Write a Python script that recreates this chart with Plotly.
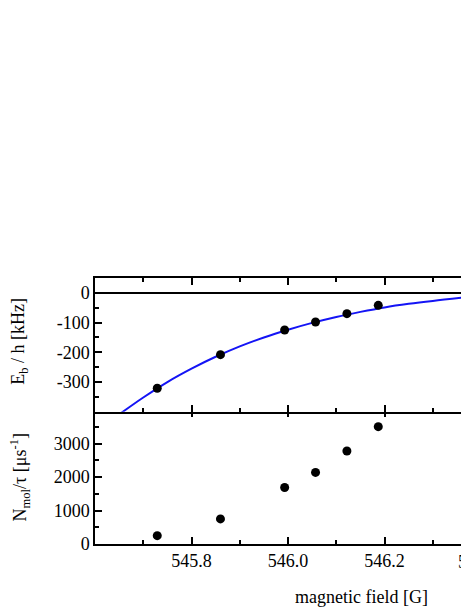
import plotly.graph_objects as go

# measured points (magnetic field in G)
field = [545.729, 545.860, 545.993, 546.057, 546.122, 546.187]
binding_energy = [-321, -208, -125, -98, -70, -42]   # kHz
mol_rate = [249, 750, 1690, 2140, 2780, 3510]          # 1/us

# fitted curve
fit_field = [545.65, 545.70, 545.75, 545.80, 545.85, 545.90, 545.95, 546.00,
             546.05, 546.10, 546.15, 546.20, 546.25, 546.30, 546.375]
fit_energy = [-409, -352, -300, -255, -215, -180, -150, -124,
              -101, -81, -64, -49, -37, -27, -14]

x_range = [545.6, 546.375]
x_ticks = [545.8, 546.0, 546.2]
top_ticks = [-300, -200, -100, 0]
bottom_ticks = [0, 1000, 2000, 3000]

serif = "Liberation Serif"

# the page body adds 8px on the left and top, so the figure is drawn 8px smaller
W, H = 461, 599
ML, MT, MB = 87, 270, 63
plot_w = W - ML
plot_h = H - MT - MB
# axis lines sit outside their domain; overlap the panels so the shared border is one line
half_lw = 0.75 / plot_h

fig = go.Figure()

fig.add_trace(go.Scatter(x=fit_field, y=fit_energy, mode="lines",
                         line=dict(color="rgb(20,20,245)", width=2, shape="spline"),
                         xaxis="x2", yaxis="y2", showlegend=False))
fig.add_trace(go.Scatter(x=field, y=binding_energy, mode="markers",
                         marker=dict(color="black", size=9),
                         xaxis="x2", yaxis="y2", showlegend=False))
fig.add_trace(go.Scatter(x=field, y=mol_rate, mode="markers",
                         marker=dict(color="black", size=9),
                         xaxis="x", yaxis="y", showlegend=False))

axis_common = dict(showline=True, linecolor="black", linewidth=1.5,
                   ticks="inside", ticklen=7, tickwidth=1.5, tickcolor="black",
                   showgrid=False, tickfont=dict(family=serif, size=18, color="black"))
minor_x = dict(ticks="inside", dtick=0.1, tick0=545.6, ticklen=4,
               tickwidth=1.5, tickcolor="black")

fig.update_layout(
    width=W, height=H,
    margin=dict(l=ML, r=0, t=MT, b=MB),
    paper_bgcolor="white", plot_bgcolor="white",
    font=dict(family=serif, size=18, color="black"),
    xaxis=dict(axis_common, domain=[0, 1], anchor="y", range=x_range,
               tickvals=x_ticks, ticktext=["%.1f" % v for v in x_ticks],
               mirror="ticks", zeroline=False, minor=minor_x),
    xaxis2=dict(axis_common, domain=[0, 1], anchor="y2", range=x_range,
                matches="x", tickvals=x_ticks, showticklabels=False,
                mirror="ticks", zeroline=False, minor=minor_x),
    yaxis=dict(axis_common, domain=[0, 0.5 + half_lw], anchor="x", range=[0, 4000],
               tickvals=bottom_ticks, ticktext=[str(v) for v in bottom_ticks],
               zeroline=False,
               minor=dict(ticks="inside", dtick=500, ticklen=4,
                          tickwidth=1.5, tickcolor="black")),
    yaxis2=dict(axis_common, domain=[0.5 - half_lw, 1], anchor="x2", range=[-400, 50],
                tickvals=top_ticks, ticktext=[str(v) for v in top_ticks],
                zeroline=True, zerolinecolor="black", zerolinewidth=1.5,
                minor=dict(ticks="inside", dtick=50, ticklen=4,
                           tickwidth=1.5, tickcolor="black")),
)

annotations = [
    # tick label at 546.4, cut off by the right edge
    dict(text="546.4", xref="paper", yref="paper",
         x=(546.4 - x_range[0]) / (x_range[1] - x_range[0]), y=-18 / plot_h,
         xanchor="center", yanchor="middle", showarrow=False, xshift=-3,
         font=dict(family=serif, size=18)),
    dict(text="magnetic field [G]", xref="paper", yref="paper",
         x=(353 - ML) / plot_w, y=-53 / plot_h,
         xanchor="center", yanchor="middle", showarrow=False,
         font=dict(family=serif, size=18)),
    dict(text="E<sub>b</sub> / h [kHz]", xref="paper", yref="paper",
         x=(12 - ML) / plot_w, y=0.76, textangle=-90,
         xanchor="center", yanchor="middle", showarrow=False,
         font=dict(family=serif, size=18)),
    dict(text="N<sub>mol</sub>/τ [μs<sup>-1</sup>]", xref="paper", yref="paper",
         x=(12 - ML) / plot_w, y=0.25, textangle=-90,
         xanchor="center", yanchor="middle", showarrow=False,
         font=dict(family=serif, size=18)),
]
fig.update_layout(annotations=annotations)

fig.write_html("out.html")
